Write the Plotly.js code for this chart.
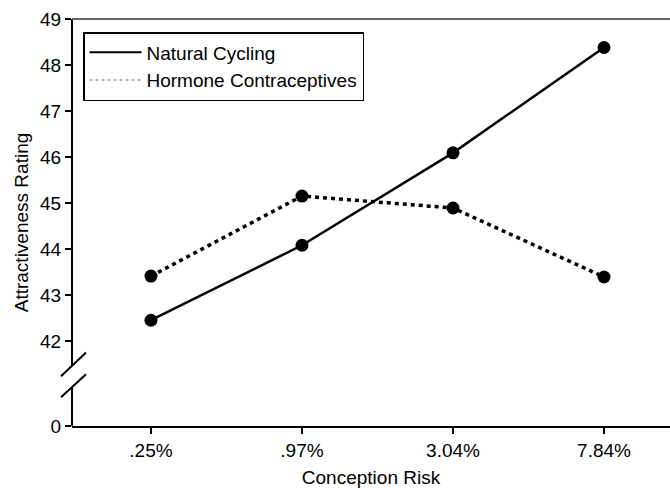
<!DOCTYPE html>
<html>
<head>
<meta charset="utf-8">
<script src="https://cdn.plot.ly/plotly-3.0.1.min.js"></script>
<style>html,body{margin:0;padding:0;background:#fff;}#chart{width:670px;height:488px;}</style>
</head>
<body>
<div id="chart"></div>
<script>
// ---- data ----
const categories = ['.25%', '.97%', '3.04%', '7.84%'];
const naturalCycling = [42.45, 44.08, 46.09, 48.38];
const hormoneContraceptives = [43.41, 45.15, 44.89, 43.39];
const seriesNames = ['Natural Cycling', 'Hormone Contraceptives'];
const yTickValues = [40.15, 42, 43, 44, 45, 46, 47, 48, 49];
const yTickLabels = ['0', '42', '43', '44', '45', '46', '47', '48', '49'];
const xTitle = 'Conception Risk';
const yTitle = 'Attractiveness Rating';

const FONT = 'Liberation Sans, Arial, Helvetica, sans-serif';
const FS = 19;

const traces = [
  {x: categories, y: naturalCycling, type: 'scatter', mode: 'lines+markers', showlegend: false,
   line: {color: '#000', width: 2.5}, marker: {color: '#000', size: 13}},
  {x: categories, y: hormoneContraceptives, type: 'scatter', mode: 'lines+markers', showlegend: false,
   line: {color: '#000', width: 3.5, dash: '4px,4px'}, marker: {color: '#000', size: 13}},
  {x: [null], y: [null], type: 'scatter', mode: 'lines', name: seriesNames[0],
   line: {color: '#000', width: 2}},
  {x: [null], y: [null], type: 'scatter', mode: 'lines', name: seriesNames[1],
   line: {color: '#999', width: 1.5, dash: 'dot'}}
];

const layout = {
  width: 670, height: 488,
  margin: {l: 72, r: 0, t: 19, b: 62},
  paper_bgcolor: '#fff', plot_bgcolor: '#fff',
  font: {family: FONT, size: FS, color: '#000'},
  xaxis: {
    type: 'category', categoryorder: 'array', categoryarray: categories,
    range: [-0.523, 3.437], showgrid: false, zeroline: false,
    showline: true, linecolor: '#000', linewidth: 2,
    ticks: 'outside', ticklen: 6, tickwidth: 2, tickcolor: '#000',
    tickfont: {family: FONT, size: FS, color: '#000'},
    title: {text: xTitle, font: {family: FONT, size: FS, color: '#000'}, standoff: 11}
  },
  yaxis: {
    range: [40.15, 49], showgrid: false, zeroline: false, showline: false,
    tickmode: 'array', tickvals: yTickValues, ticktext: yTickLabels,
    ticks: 'outside', ticklen: 6, tickwidth: 2, tickcolor: '#000',
    tickfont: {family: FONT, size: FS, color: '#000'},
    title: {text: yTitle, font: {family: FONT, size: FS, color: '#000'}, standoff: 6}
  },
  legend: {
    x: 0.0184, y: 0.968, xanchor: 'left', yanchor: 'top',
    bgcolor: '#fff', bordercolor: '#000', borderwidth: 1.5,
    font: {family: FONT, size: FS, color: '#000'},
    itemwidth: 52,
    tracegroupgap: 0
  },
  shapes: [
    // y axis line, broken
    {type: 'line', xref: 'paper', yref: 'y', x0: 0, x1: 0, y0: 40.15, y1: 40.99, line: {color: '#000', width: 2}},
    {type: 'line', xref: 'paper', yref: 'y', x0: 0, x1: 0, y0: 41.47, y1: 49, line: {color: '#000', width: 2}},
    // break slashes
    {type: 'line', xref: 'paper', yref: 'y', x0: -0.0184, x1: 0.0234, y0: 41.23, y1: 41.75, line: {color: '#000', width: 2}},
    {type: 'line', xref: 'paper', yref: 'y', x0: -0.0184, x1: 0.0234, y0: 40.775, y1: 41.275, line: {color: '#000', width: 2}},
    // top frame line
    {type: 'line', xref: 'paper', yref: 'paper', x0: 0, x1: 1, y0: 1, y1: 1, line: {color: '#666', width: 2}}
  ]
};

Plotly.newPlot('chart', traces, layout, {displayModeBar: false, staticPlot: true});
</script>
</body>
</html>
